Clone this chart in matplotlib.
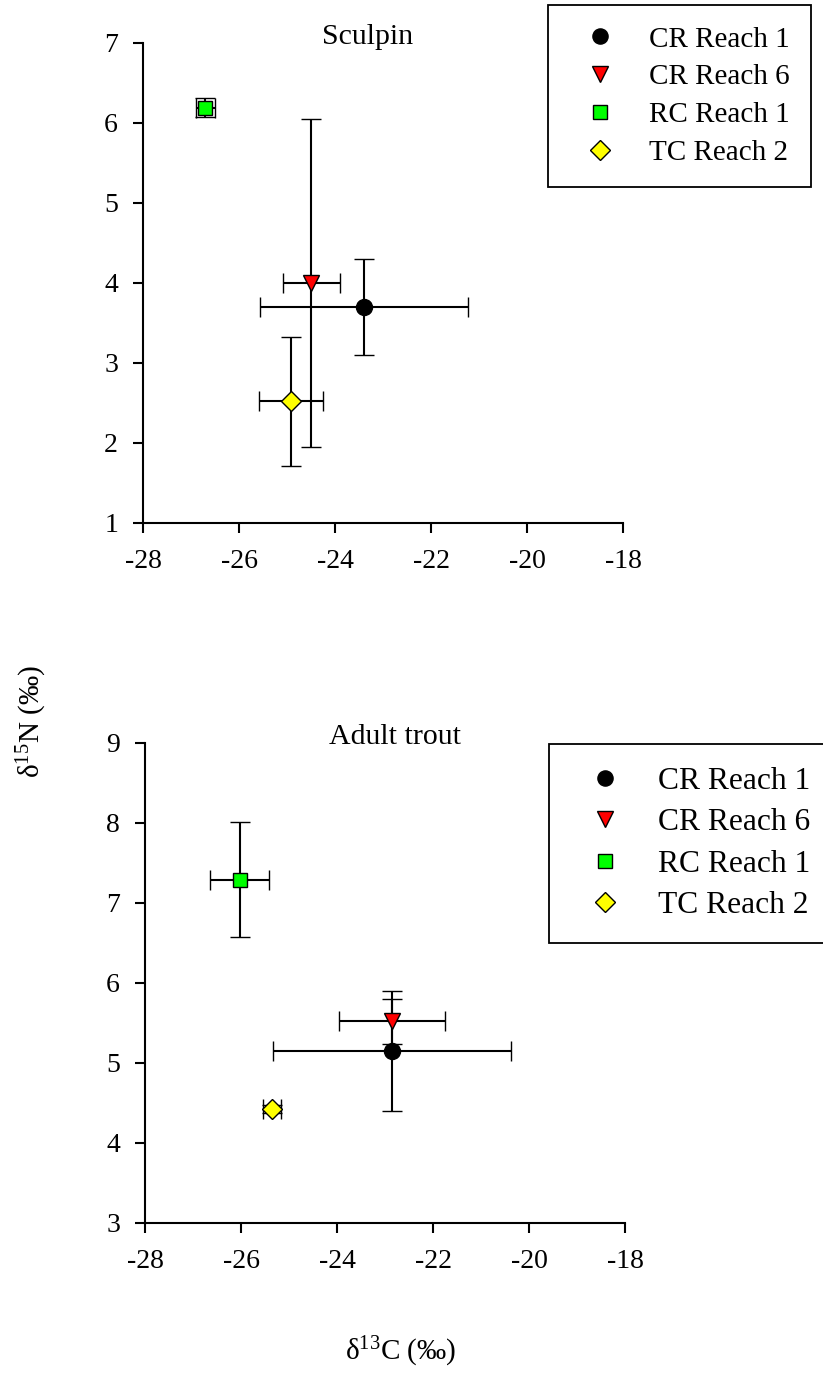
import numpy as np
import matplotlib
matplotlib.use("Agg")
import matplotlib.pyplot as plt
from matplotlib.lines import Line2D

plt.rcParams['font.family'] = ['Liberation Serif', 'DejaVu Serif']
plt.rcParams['mathtext.fontset'] = 'custom'
plt.rcParams['mathtext.rm'] = 'Liberation Serif'
plt.rcParams['mathtext.it'] = 'Liberation Serif:italic'
plt.rcParams['axes.unicode_minus'] = False

# groups and styles
groups = ['CR Reach 1', 'CR Reach 6', 'RC Reach 1', 'TC Reach 2']
markers = ['o', 'v', 's', 'D']
colours = ['black', '#FF0000', '#00FF00', '#FFFF00']
msizes = [11.5, 12, 10.5, 10.5]

# Sculpin: d13C, d15N and their errors
sculpin_c = [-23.39, -24.49, -26.70, -24.91]
sculpin_c_err = [2.17, 0.60, 0.20, 0.67]
sculpin_n = [3.70, 4.00, 6.19, 2.52]
sculpin_n_err = [0.60, 2.05, 0.12, 0.81]

# Adult trout
trout_c = [-22.85, -22.85, -26.03, -25.36]
trout_c_err = [2.48, 1.10, 0.62, 0.19]
trout_n = [5.15, 5.52, 7.29, 4.42]
trout_n_err = [0.75, 0.28, 0.72, 0.05]

x_ticks = [-28, -26, -24, -22, -20, -18]

W, H = 823, 1373
fig = plt.figure(figsize=(W / 100, H / 100), dpi=100)


def panel(rect, xs, xerr, ys, yerr, ylim, title, title_x, leg_anchor, leg_size):
    ax = fig.add_axes(rect)
    for i in range(len(groups)):
        ax.errorbar(xs[i], ys[i], xerr=xerr[i], yerr=yerr[i], fmt=markers[i],
                    color='black', mfc=colours[i], mec='black', ms=msizes[i],
                    mew=1, elinewidth=1.5, capsize=7.5, capthick=1.5, zorder=3)
    ax.set_xlim(-28, -18)
    ax.set_ylim(*ylim)
    ax.set_xticks(x_ticks)
    ax.set_yticks(range(ylim[0], ylim[1] + 1))
    ax.spines['top'].set_visible(False)
    ax.spines['right'].set_visible(False)
    for s in ['left', 'bottom']:
        ax.spines[s].set_linewidth(1.5)
    ax.tick_params(direction='out', length=7, width=1.5, labelsize=20)
    ax.tick_params(axis='y', pad=11)
    ax.tick_params(axis='x', pad=12)
    ax.text(title_x, 0.997, title, transform=ax.transAxes, ha='center',
            va='baseline', fontsize=21.5)

    handles = [Line2D([], [], ls='none', marker=markers[i], mfc=colours[i],
                      mec='black', ms=msizes[i] * 0.95, mew=1)
               for i in range(len(groups))]
    leg = fig.legend(handles, groups, loc='upper left', bbox_to_anchor=leg_anchor,
                     bbox_transform=fig.transFigure, borderaxespad=0,
                     fontsize=leg_size, frameon=True, fancybox=False,
                     framealpha=1, edgecolor='black', borderpad=0.73,
                     labelspacing=0.39, handlelength=2.11, handletextpad=0.62)
    leg.get_frame().set_linewidth(1.3)
    return ax


panel([143 / W, 1 - 523 / H, 480 / W, 480 / H],
      sculpin_c, sculpin_c_err, sculpin_n, sculpin_n_err, (1, 7),
      'Sculpin', 0.467, (548 / W, 1 - 5 / H), 21)

panel([145 / W, 1 - 1223 / H, 480 / W, 480 / H],
      trout_c, trout_c_err, trout_n, trout_n_err, (3, 9),
      'Adult trout', 0.52, (549 / W, 1 - 744 / H), 22.7)

fig.text(32 / W, 1 - 722 / H, 'δ$^{15}$N (‰)', rotation=90, ha='center',
         va='center', fontsize=21)
fig.text(401 / W, 1 - 1352 / H, 'δ$^{13}$C (‰)', ha='center', va='center',
         fontsize=21)

fig.savefig('out.png', dpi=100)
